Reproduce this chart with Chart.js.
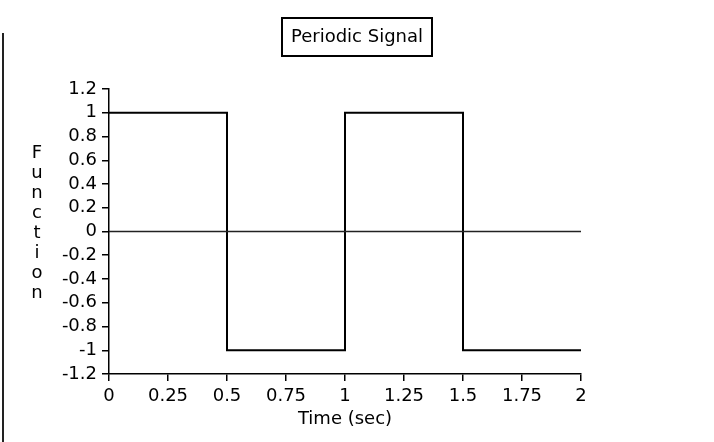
<!DOCTYPE html>
<html>
<head>
<meta charset="utf-8">
<script src="https://cdn.jsdelivr.net/npm/chart.js@4.4.0/dist/chart.umd.min.js"></script>
<style>
  html, body { margin: 0; padding: 0; background: #fff; }
  #wrap { position: relative; width: 714px; height: 442px; }
  #edge { position: absolute; left: 2px; top: 33px; width: 2px; height: 409px; background: #222; }
</style>
</head>
<body>
<div id="wrap">
  <canvas id="sig" width="714" height="442"></canvas>
  <div id="edge"></div>
</div>
<script>
// data
const waveTime = [0, 0.5, 0.5, 1, 1, 1.5, 1.5, 2];
const waveValue = [1, 1, -1, -1, 1, 1, -1, -1];
const zeroTime = [0, 2];
const zeroValue = [0, 0];
const xTicks = [0, 0.25, 0.5, 0.75, 1, 1.25, 1.5, 1.75, 2];
const yTicks = [-1.2, -1, -0.8, -0.6, -0.4, -0.2, 0, 0.2, 0.4, 0.6, 0.8, 1, 1.2];
const titleText = 'Periodic Signal';
const yTitle = 'Function';
const xTitle = 'Time (sec)';

const FONT = 'DejaVu Sans';

function toPoints(xs, ys) {
    return xs.map((x, i) => ({ x: x, y: ys[i] }));
}

// boxed title and stacked y label
const extras = {
    id: 'extras',
    afterDraw(chart) {
        const ctx = chart.ctx;
        ctx.save();
        ctx.fillStyle = '#000';
        ctx.strokeStyle = '#000';
        ctx.font = '18px "' + FONT + '"';
        ctx.textAlign = 'center';
        ctx.textBaseline = 'middle';
        const cx = chart.width / 2;
        const w = ctx.measureText(titleText).width;
        ctx.fillText(titleText, cx, 37);
        ctx.lineWidth = 2;
        ctx.strokeRect(Math.round(cx - w / 2 - 9), 18, Math.round(w + 18), 38);

        const letters = yTitle.split('');
        letters.forEach((ch, i) => {
            ctx.fillText(ch, 37, 153 + i * 20);
        });
        ctx.restore();
    }
};

new Chart(document.getElementById('sig'), {
    type: 'line',
    data: {
        datasets: [
            {
                data: toPoints(zeroTime, zeroValue),
                borderColor: '#222',
                borderWidth: 1.4,
                pointRadius: 0,
                tension: 0
            },
            {
                data: toPoints(waveTime, waveValue),
                borderColor: '#000',
                borderWidth: 2,
                pointRadius: 0,
                tension: 0
            }
        ]
    },
    options: {
        responsive: false,
        animation: false,
        layout: { padding: { top: 89, right: 133, bottom: 0, left: 0 } },
        plugins: {
            legend: { display: false },
            title: { display: false },
            tooltip: { enabled: false }
        },
        scales: {
            x: {
                type: 'linear',
                min: 0,
                max: 2,
                afterBuildTicks: (s) => { s.ticks = xTicks.map(v => ({ value: v })); },
                afterFit: (s) => { s.height = 68; },
                ticks: {
                    color: '#000',
                    font: { family: FONT, size: 18 },
                    padding: 5,
                    maxRotation: 0,
                    autoSkip: false,
                    callback: (v) => String(v)
                },
                grid: { drawOnChartArea: false, drawTicks: true, tickLength: 7, color: '#000', lineWidth: 1.5 },
                border: { display: true, color: '#000', width: 1.5 },
                title: {
                    display: true,
                    text: xTitle,
                    color: '#000',
                    font: { family: FONT, size: 18 },
                    padding: { top: 0, bottom: 12 }
                }
            },
            y: {
                type: 'linear',
                min: -1.2,
                max: 1.2,
                afterBuildTicks: (s) => { s.ticks = yTicks.map(v => ({ value: v })); },
                afterFit: (s) => { s.width = 109; },
                ticks: {
                    color: '#000',
                    font: { family: FONT, size: 18 },
                    padding: 5,
                    autoSkip: false,
                    callback: (v) => String(v)
                },
                grid: { drawOnChartArea: false, drawTicks: true, tickLength: 7, color: '#000', lineWidth: 1.5 },
                border: { display: true, color: '#000', width: 1.5 }
            }
        }
    },
    plugins: [extras]
});
</script>
</body>
</html>
